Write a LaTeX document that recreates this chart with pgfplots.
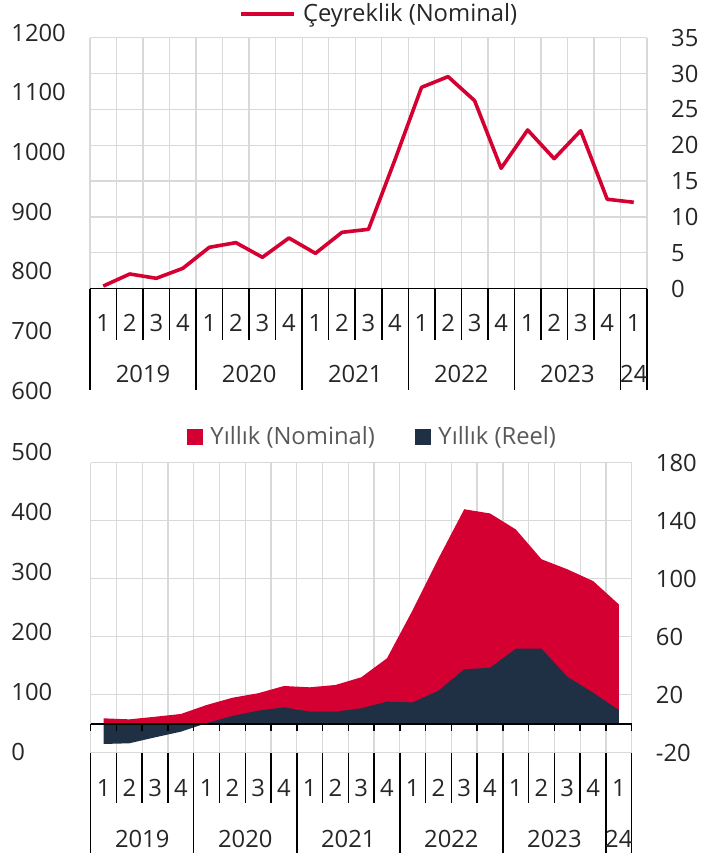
\documentclass[border=0pt]{standalone}
\usepackage{pgfplots}
\pgfplotsset{compat=1.18}
\usepackage{fontspec}
\setmainfont{Open Sans}
\definecolor{cred}{HTML}{D50032}
\definecolor{cnavy}{HTML}{1F3044}
\definecolor{cgrid}{HTML}{D9D9D9}
\definecolor{ctext}{HTML}{262626}
\definecolor{clegend}{HTML}{595959}
\pgfplotsset{
  base/.style={
    scale only axis, anchor=south west,
    xmin=-0.5, xmax=20.5,
    axis line style={draw=none},
    major tick length=0pt, minor tick length=0pt,
    tick style={draw=none},
    /pgf/number format/assume math mode=true,
    /pgf/number format/1000 sep={},
    ticklabel style={text=ctext},
    clip=false,
  },
  labelaxis/.style={base, xtick=\empty, yticklabel style={anchor=west, inner sep=0pt}},
  mainaxis/.style={base,
    xtick={0,...,20},
    xticklabels={1,2,3,4,1,2,3,4,1,2,3,4,1,2,3,4,1,2,3,4,1},
    xticklabel style={anchor=center, inner sep=0pt},
    minor xtick={-0.5,0.5,...,20.5}, xminorgrids, ymajorgrids,
    grid style={cgrid, line width=1.3pt}, minor grid style={cgrid, line width=1.3pt},
    yticklabel pos=right,
    yticklabel style={anchor=west, inner sep=0pt, xshift=24pt},
  },
}
\begin{document}
\fontsize{23.8}{28}\selectfont
\begin{tikzpicture}
\path[use as bounding box] (0pt,0pt) rectangle (712pt,854pt);
% left label axes
\begin{axis}[labelaxis, at={(90pt,463.5pt)}, width=557pt, height=358pt,
  ymin=600, ymax=1200, ytick={600,700,...,1200}, yticklabel style={xshift=-78.8pt}]
\end{axis}
\begin{axis}[labelaxis, at={(90.7pt,102.3pt)}, width=541pt, height=299.4pt,
  ymin=0, ymax=500, ytick={0,100,...,500}, yticklabel style={xshift=-79.5pt}]
\end{axis}
% top panel
\begin{axis}[mainaxis, at={(90pt,565.3pt)}, width=557pt, height=251pt,
  ymin=0, ymax=35, ytick={0,5,...,35},
  xticklabel style={yshift=-34.6pt},
  legend style={draw=none, fill=none, inner sep=0pt, text=ctext,
    at={(axis description cs:0.268,1.094)}, anchor=west,
    /tikz/every odd column/.append style={column sep=5pt}},
  legend image code/.code={\draw[#1] (0pt,0pt) -- (53pt,0pt);},
]
\addplot[cred, line width=3.6pt, line join=round] coordinates {
(0,0.37) (1,2.05) (2,1.45) (3,2.84) (4,5.77) (5,6.42) (6,4.38) (7,7.07)
(8,4.93) (9,7.86) (10,8.28) (11,18.0) (12,28.08) (13,29.57) (14,26.22)
(15,16.79) (16,22.13) (17,18.13) (18,22.03) (19,12.47) (20,12.05)};
\addlegendentry{Çeyreklik (Nominal)}
\draw[black, line width=1.6pt] (axis cs:-0.5,0) -- (axis cs:20.5,0);
\pgfplotsinvokeforeach{0.5,1.5,2.5,4.5,5.5,6.5,8.5,9.5,10.5,12.5,13.5,14.5,16.5,17.5,18.5}{
  \draw[black, line width=1.5pt] (axis cs:#1,0) -- ++(0pt,-51.3pt);}
\pgfplotsinvokeforeach{-0.5,3.5,7.5,11.5,15.5,19.5,20.5}{
  \draw[black, line width=1.5pt] (axis cs:#1,0) -- ++(0pt,-101.3pt);}
\node[text=ctext] at (axis cs:1.5,0) [yshift=-85.6pt] {2019};
\node[text=ctext] at (axis cs:5.5,0) [yshift=-85.6pt] {2020};
\node[text=ctext] at (axis cs:9.5,0) [yshift=-85.6pt] {2021};
\node[text=ctext] at (axis cs:13.5,0) [yshift=-85.6pt] {2022};
\node[text=ctext] at (axis cs:17.5,0) [yshift=-85.6pt] {2023};
\node[text=ctext] at (axis cs:20,0) [yshift=-85.6pt] {24};
\end{axis}
% bottom panel
\begin{axis}[mainaxis, at={(90.7pt,101.3pt)}, width=541pt, height=290pt,
  ymin=-20, ymax=180, ytick={-20,20,...,180},
  xticklabel style={yshift=-35.3pt},
  legend columns=2,
  legend style={draw=none, fill=none, inner sep=0pt, text=clegend,
    at={(axis description cs:0.1775,1.087)}, anchor=west,
    /tikz/every odd column/.append style={column sep=5.5pt},
    /tikz/every even column/.append style={column sep=38pt}},
  legend image code/.code={\path[#1, draw=none] (0pt,-8pt) rectangle (16pt,8pt);},
]
\addplot[fill=cred, draw=none] coordinates {
(0,3.7) (1,3.0) (2,4.8) (3,6.7) (4,12.9) (5,17.9) (6,21) (7,26)
(8,25.1) (9,26.7) (10,32) (11,45.1) (12,78.4) (13,114) (14,147.9)
(15,145) (16,134) (17,113.4) (18,106.5) (19,98.4) (20,82.3)} \closedcycle;
\addlegendentry{Yıllık (Nominal)}
\addplot[fill=cnavy, draw=none] coordinates {
(0,-14) (1,-13.5) (2,-9.4) (3,-5.5) (4,0.4) (5,5.3) (6,9) (7,11.3)
(8,8.3) (9,8.3) (10,10.6) (11,15.2) (12,14.7) (13,22.8) (14,37.5)
(15,38.6) (16,51.7) (17,51.7) (18,32.4) (19,21.4) (20,9.4)} \closedcycle;
\addlegendentry{Yıllık (Reel)}
\draw[black, line width=1.6pt] (axis cs:-0.5,0) -- (axis cs:20.5,0);
\pgfplotsinvokeforeach{-0.5,0.5,...,20.5}{
  \draw[black, line width=1.5pt] (axis cs:#1,0) -- ++(0pt,-7.7pt);}
\pgfplotsinvokeforeach{0.5,1.5,2.5,4.5,5.5,6.5,8.5,9.5,10.5,12.5,13.5,14.5,16.5,17.5,18.5}{
  \draw[black, line width=1.5pt] (axis cs:#1,-20) -- ++(0pt,-50.3pt);}
\pgfplotsinvokeforeach{-0.5,3.5,7.5,11.5,15.5,19.5,20.5}{
  \draw[black, line width=1.5pt] (axis cs:#1,-20) -- ++(0pt,-100.3pt);}
\node[text=ctext] at (axis cs:1.5,-20) [yshift=-86.3pt] {2019};
\node[text=ctext] at (axis cs:5.5,-20) [yshift=-86.3pt] {2020};
\node[text=ctext] at (axis cs:9.5,-20) [yshift=-86.3pt] {2021};
\node[text=ctext] at (axis cs:13.5,-20) [yshift=-86.3pt] {2022};
\node[text=ctext] at (axis cs:17.5,-20) [yshift=-86.3pt] {2023};
\node[text=ctext] at (axis cs:20,-20) [yshift=-86.3pt] {24};
\end{axis}
\end{tikzpicture}
\end{document}
